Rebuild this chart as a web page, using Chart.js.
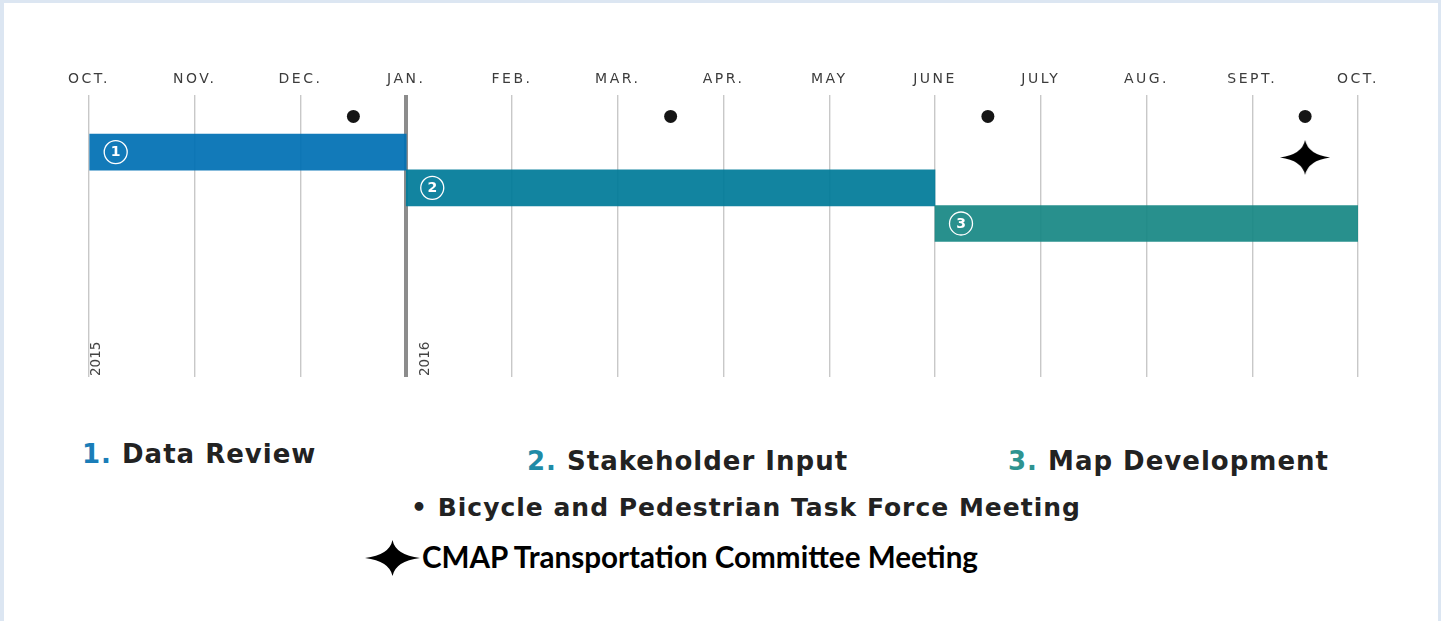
<!DOCTYPE html>
<html>
<head>
<meta charset="utf-8">
<script src="https://cdn.jsdelivr.net/npm/chart.js@4.4.0/dist/chart.umd.min.js"></script>
<style>
  html, body { margin: 0; padding: 0; }
  body { width: 1441px; height: 621px; background: #dce6f2; position: relative; overflow: hidden; }
  #panel { position: absolute; left: 4px; top: 3px; width: 1434px; height: 618px; background: #fff; }
  #chartBox { position: absolute; left: 0; top: 0; width: 1434px; height: 395px; }
  .lg { position: absolute; white-space: nowrap; color: #222; line-height: 30px;
        font-family: "DejaVu Sans", sans-serif; font-weight: bold; font-size: 25px; letter-spacing: 1px; }
  .lg.phase { font-size: 26px; }
  .cmap { position: absolute; white-space: nowrap; color: #000; line-height: 30px;
          font-family: Lato, "Noto Sans", sans-serif; font-weight: bold; font-size: 29.6px; }
</style>
</head>
<body>
<div id="panel">
  <div id="chartBox"><canvas id="timeline"></canvas></div>
</div>
<div id="legend"></div>
<script>
// month ticks along the top, 0 = Oct 2015 ... 12 = Oct 2016
const monthLabels = ['OCT.', 'NOV.', 'DEC.', 'JAN.', 'FEB.', 'MAR.', 'APR.', 'MAY', 'JUNE', 'JULY', 'AUG.', 'SEPT.', 'OCT.'];
const yearLabels = ['2015', '2016'];
const yearStarts = [0, 3];

// project phases
const phaseNames = ['Data Review', 'Stakeholder Input', 'Map Development'];
const phaseStart = [0, 3, 8];
const phaseEnd = [3, 8, 12];
const phaseRow = [1, 2, 3];
const phaseColors = ['rgba(0,112,180,0.93)', 'rgba(0,123,153,0.93)', 'rgba(24,136,132,0.93)'];
const phaseTextColors = ['#1a7db8', '#1f8ba6', '#2e9390'];

// meetings
const taskForceMonths = [2.5, 5.5, 8.5, 11.5];
const taskForceRow = 0;
const committeeMonths = [11.5];
const committeeRow = 1.15;

const taskForceLabel = 'Bicycle and Pedestrian Task Force Meeting';
const committeeLabel = 'CMAP Transportation Committee Meeting';

// four point star used for the committee meeting marker
const makeStar = (w, h) => {
  const c = document.createElement('canvas');
  c.width = w; c.height = h;
  const g = c.getContext('2d');
  const cx = w / 2, cy = h / 2, k = 3;
  g.beginPath();
  g.moveTo(0, cy);
  g.quadraticCurveTo(cx - k, cy - k, cx, 0);
  g.quadraticCurveTo(cx + k, cy - k, w, cy);
  g.quadraticCurveTo(cx + k, cy + k, cx, h);
  g.quadraticCurveTo(cx - k, cy + k, 0, cy);
  g.closePath();
  g.fillStyle = '#000';
  g.fill();
  return c;
};

// tick labels are letter spaced
const spacingPlugin = {
  id: 'spacing',
  beforeDraw: (chart) => { chart.ctx.letterSpacing = '2.5px'; },
  afterDraw: (chart) => { chart.ctx.letterSpacing = '0px'; }
};

// circled numbers on the bars and rotated year labels
const decorPlugin = {
  id: 'decor',
  afterDatasetsDraw: (chart, args, opts) => {
    const ctx = chart.ctx;
    const meta = chart.getDatasetMeta(0);
    ctx.save();
    ctx.letterSpacing = '0px';
    meta.data.forEach((bar, i) => {
      const cx = Math.min(bar.x, bar.base) + 26;
      const cy = bar.y;
      ctx.beginPath();
      ctx.arc(cx, cy, 11.5, 0, Math.PI * 2);
      ctx.strokeStyle = '#fff';
      ctx.lineWidth = 1.3;
      ctx.stroke();
      ctx.fillStyle = '#fff';
      ctx.font = 'bold 14px "DejaVu Sans"';
      ctx.textAlign = 'center';
      ctx.textBaseline = 'middle';
      ctx.fillText(String(i + 1), cx, cy + 0.5);
    });
    const xs = chart.scales.x;
    const bottom = chart.chartArea.bottom;
    yearLabels.forEach((label, i) => {
      const x = xs.getPixelForValue(yearStarts[i]) + opts.offsets[i];
      ctx.save();
      ctx.translate(x, bottom - 1);
      ctx.rotate(-Math.PI / 2);
      ctx.font = '13.5px "DejaVu Sans"';
      ctx.fillStyle = '#444';
      ctx.textAlign = 'left';
      ctx.textBaseline = 'middle';
      ctx.fillText(label, 0, 0);
      ctx.restore();
    });
    ctx.restore();
  }
};

const starImg = makeStar(50, 35);

new Chart(document.getElementById('timeline'), {
  type: 'bar',
  data: {
    datasets: [
      {
        type: 'bar',
        indexAxis: 'y',
        data: phaseNames.map((n, i) => ({ y: phaseRow[i], x: [phaseStart[i], phaseEnd[i]] })),
        backgroundColor: phaseColors,
        borderWidth: 0,
        barThickness: 36
      },
      {
        type: 'scatter',
        data: taskForceMonths.map(m => ({ x: m, y: taskForceRow })),
        pointRadius: 6.5,
        pointBackgroundColor: '#151515',
        pointBorderWidth: 0
      },
      {
        type: 'scatter',
        data: committeeMonths.map(m => ({ x: m, y: committeeRow })),
        pointStyle: starImg,
        pointRadius: 20
      }
    ]
  },
  options: {
    responsive: true,
    maintainAspectRatio: false,
    animation: false,
    events: [],
    layout: { padding: { left: 85, right: 80, top: 0, bottom: 18 } },
    plugins: {
      legend: { display: false },
      tooltip: { enabled: false },
      decor: { offsets: [7, 19] }
    },
    scales: {
      x: {
        type: 'linear',
        position: 'top',
        min: 0,
        max: 12,
        offset: false,
        afterFit: (s) => { s.height = 92; },
        border: { display: false },
        grid: {
          offset: false,
          drawTicks: false,
          color: (c) => c.tick && c.tick.value === 3 ? '#8c8c8c' : '#c8c8c8',
          lineWidth: (c) => c.tick && c.tick.value === 3 ? 4 : 1.4
        },
        ticks: {
          stepSize: 1,
          autoSkip: false,
          maxRotation: 0,
          padding: 7,
          color: '#3c3c3c',
          font: { family: 'DejaVu Sans', size: 14 },
          callback: (v) => monthLabels[v]
        }
      },
      y: {
        type: 'linear',
        display: false,
        offset: false,
        reverse: true,
        min: -0.6,
        max: 7.3,
        grid: { offset: false }
      }
    }
  },
  plugins: [spacingPlugin, decorPlugin]
});

// legend below the chart
const legend = document.getElementById('legend');
const phasePos = [[82, 439], [527, 446], [1008, 446]];
phaseNames.forEach((name, i) => {
  const d = document.createElement('div');
  d.className = 'lg phase';
  d.style.left = phasePos[i][0] + 'px';
  d.style.top = phasePos[i][1] + 'px';
  d.innerHTML = '<span style="color:' + phaseTextColors[i] + '">' + (i + 1) + '.</span> ' + name;
  legend.appendChild(d);
});
const tf = document.createElement('div');
tf.className = 'lg';
tf.style.left = '411px';
tf.style.top = '493px';
tf.textContent = '\u2022 ' + taskForceLabel;
legend.appendChild(tf);

const legendStar = makeStar(55, 36);
legendStar.style.position = 'absolute';
legendStar.style.left = '365px';
legendStar.style.top = '540px';
legend.appendChild(legendStar);
const cm = document.createElement('div');
cm.className = 'cmap';
cm.style.left = '422px';
cm.style.top = '542px';
cm.textContent = committeeLabel;
legend.appendChild(cm);
</script>
</body>
</html>
